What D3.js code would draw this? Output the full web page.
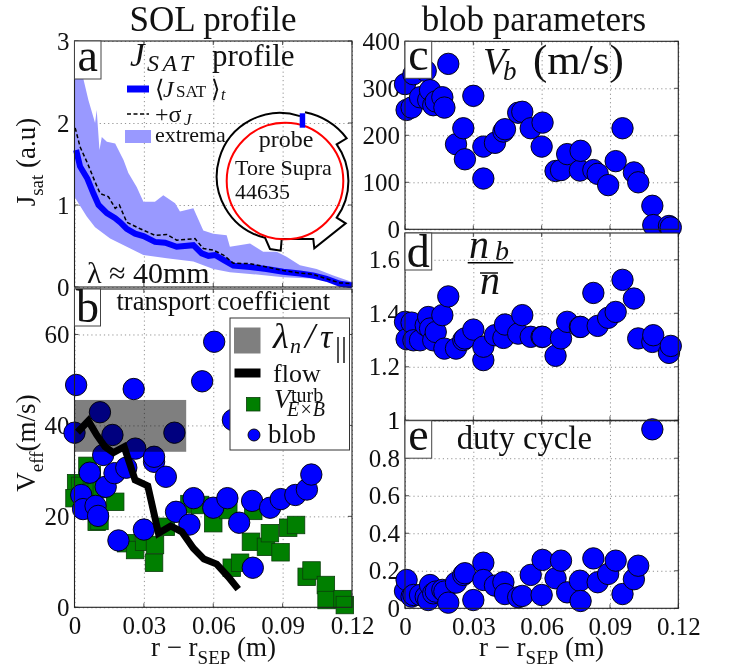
<!DOCTYPE html>
<html>
<head>
<meta charset="utf-8">
<script src="https://cdn.jsdelivr.net/npm/d3@7"></script>
<style>
html, body { margin: 0; padding: 0; background: white; }
svg { display: block; filter: blur(0.4px); }
text { font-family: "Liberation Serif", serif; fill: #111; }
</style>
</head>
<body>
<div id="chart"></div>
<script>
var WIDTH = 731;
var HEIGHT = 669;
var BLOB_R = 10.7;
var SQUARE = 17.5;

//panel a, x in mm
var meanX = [0.7, 2.4, 5.6, 8.2, 10.4, 14, 17.6, 19.7, 22.6, 26.2, 29.8, 34.8, 39.2, 44.2, 51.4, 55, 57.9, 60.8, 64.4, 68.7, 75.9, 83, 90.3, 97.5, 103.2, 109, 114.8, 120];
var meanJ = [1.67, 1.47, 1.32, 1.14, 1.00, 0.90, 0.84, 0.79, 0.71, 0.65, 0.62, 0.55, 0.54, 0.49, 0.51, 0.41, 0.38, 0.39, 0.33, 0.26, 0.245, 0.22, 0.185, 0.165, 0.14, 0.10, 0.04, 0.02];
var sigmaX = [0.3, 2.4, 5.6, 8.9, 11.1, 14.7, 17.6, 19.4, 22.6, 28.4, 34.8, 39.9, 44.2, 52.1, 55.7, 60, 64.4, 68.7, 75.9, 83, 90.3, 97.5, 103.2, 109, 114.8, 120];
var sigmaJ = [1.94, 1.71, 1.51, 1.28, 1.14, 1.10, 0.96, 1.0, 0.79, 0.71, 0.63, 0.64, 0.57, 0.59, 0.47, 0.45, 0.39, 0.29, 0.285, 0.245, 0.20, 0.17, 0.155, 0.10, 0.05, 0.04];
var upperX = [0, 3.9, 6, 8.9, 9.6, 10.8, 11.8, 14, 17.6, 21.2, 23.3, 26.9, 29.8, 34.8, 38.4, 43.5, 45.6, 51.4, 55.7, 60, 65.8, 67.2, 75.9, 81.6, 87.4, 91.7, 97.5, 104.7, 111.9, 120];
var upperJ = [2.9, 2.53, 2.28, 2.0, 2.16, 1.67, 1.83, 1.77, 1.75, 1.55, 1.39, 1.22, 1.04, 1.04, 1.12, 1.02, 0.92, 0.96, 0.69, 0.65, 0.63, 0.49, 0.53, 0.43, 0.43, 0.37, 0.265, 0.22, 0.14, 0.06];
var lowerX = [0, 1.7, 5.3, 8.9, 15.4, 22.6, 29.8, 39.9, 51.4, 60, 67.2, 75.9, 90.3, 104.7, 114.8, 120];
var lowerJ = [1.10, 1.02, 0.86, 0.73, 0.59, 0.49, 0.39, 0.35, 0.31, 0.22, 0.18, 0.16, 0.12, 0.10, 0.02, 0];

//panel b
var lambdaX = [0, 48.3];
var lambdaV = [34.2, 45.6];
var flowX = [1.3, 6, 9.6, 13.2, 16.8, 21.5, 26.2, 31.7, 36.3, 41.6, 46.4, 51.4, 56, 61.5, 66.5, 70.8];
var flowV = [38.5, 41, 37.9, 35.3, 34, 35.3, 28, 26.7, 16.3, 17.9, 16.6, 13, 10.6, 9.5, 6.7, 4];
var turbX = [0.7, 0, 2.4, 5.6, 7.5, 9.6, 11.8, 17.6, 9.6, 10.8, 22.3, 26.2, 30.1, 34.8, 34.4, 39.5, 49.7, 54.3, 60, 66.5, 68, 71.6, 76.3, 77.3, 82.8, 84.5, 89.1, 92.4, 95.8, 100.4, 102.5, 108.7, 109, 115.9, 116.9];
var turbV = [27.3, 24, 26.7, 31.1, 29.1, 26.2, 26, 23.2, 18.8, 19, 14.1, 12.6, 14.4, 13.7, 9.8, 17.7, 22.7, 22.5, 18.5, 21.4, 8.7, 9.8, 14.4, 21.2, 13.3, 16.3, 12.1, 17.5, 18.1, 6.7, 8.1, 4.9, 1.6, 1.8, 0.5];

//blob series, all share blobX (mm). null = not drawn
var blobX = [0, 0.7, 2.9, 3.7, 6.6, 9.1, 10.2, 11, 12.4, 13.5, 16.4, 17.3, 19, 22.4, 25.6, 26.3, 30, 34.4, 34.4, 39.5, 43.2, 43.9, 49.7, 51.5, 55.2, 60, 60.4, 66.1, 68.5, 71.2, 76.8, 77.1, 82.7, 84.6, 89.2, 92.5, 95.5, 100.5, 102.4, 108.6, 109, 115.9, 116.7];
var blobVeff = [38.4, 48.9, 24.7, 21.6, 29.6, 22.3, 20.1, 42.9, 33.5, 26.5, 37.9, 29.5, 14.7, 30.7, 48, 34.9, 17.1, 32, 33.1, 28.7, 38.4, 21, 18.2, 24, 49.7, 21.9, 58.4, 24, 41.2, 18.6, 23.4, 8.7, null, 21.9, 23.8, null, 24.7, 25.9, 29.2, null, null, null, null];
var blobVb = [309, 254, 259, 330, 281, 337, 275, 296, 264, 272, 281, 259, 352, 181, 215, 149, 284, 176, 108, 184, 208, 213, 248, 250, 215, 176, 227, 124, 126, 160, 125, 167, 126, 118, 94, 145, 215, 121, 100, 50, 9, 7, 4];
var blobNb = [1.368, 1.303, 1.365, 1.299, 1.299, 1.355, 1.386, 1.343, 1.299, 1.33, 1.393, 1.268, 1.463, 1.268, 1.30, 1.306, 1.339, 1.225, 1.275, 1.318, 1.308, 1.358, 1.324, 1.393, 1.312, 1.312, 1.312, 1.241, 1.306, 1.368, 1.349, 1.349, 1.476, 1.353, 1.383, 1.405, 1.525, 1.455, 1.306, 1.293, 1.318, 1.252, 1.278];
var blobDuty = [0.092, 0.151, 0.062, 0.071, 0.071, 0.062, 0.044, 0.124, 0.08, 0.089, 0.098, 0.089, 0.03, 0.137, 0.178, 0.187, 0.044, 0.243, 0.151, 0.121, 0.139, 0.076, 0.059, 0.066, 0.178, 0.071, 0.258, 0.16, 0.254, 0.085, 0.147, 0.039, 0.266, 0.139, 0.183, 0.254, 0.076, 0.155, 0.227, 0.954, null, null, null];

//ticks
var xTicks = [0, 30, 60, 90, 120];
var xTickLabels = ['0', '0.03', '0.06', '0.09', '0.12'];
var jTicks = [0, 1, 2, 3];
var veffTicks = [0, 20, 40, 60];
var vbTicks = [0, 100, 200, 300, 400];
var nbTicks = [1, 1.2, 1.4, 1.6];
var dutyTicks = [0, 0.2, 0.4, 0.6, 0.8, 1];

var svg = d3.select('#chart')
    .append('svg')
    .attr('width', WIDTH)
    .attr('height', HEIGHT);

//put text at a pixel position
function addText(parent, x, y, size, str, style, anchor) {
    return parent.append('text')
        .attr('x', x)
        .attr('y', y)
        .attr('font-size', size)
        .attr('font-style', style || 'normal')
        .attr('text-anchor', anchor || 'start')
        .text(str);
}

/**
 * Draws the white box, grid, ticks and the corner letter of one panel
 */
function makePanel(cfg) {
    var x = d3.scaleLinear().domain([0, 120]).range([cfg.left, cfg.right]);
    var y = d3.scaleLinear().domain(cfg.domain).range([cfg.bottom, cfg.top]);
    var g = svg.append('g');

    g.append('rect')
        .attr('x', cfg.left).attr('y', cfg.top)
        .attr('width', cfg.right - cfg.left)
        .attr('height', cfg.bottom - cfg.top)
        .attr('fill', 'white');

    //dotted grid
    var grid = g.append('g');
    grid.append('g')
        .attr('transform', `translate(${cfg.left},0)`)
        .call(d3.axisLeft(y).tickValues(cfg.ticks).tickSize(-(cfg.right - cfg.left)).tickFormat(''));
    grid.append('g')
        .attr('transform', `translate(0,${cfg.bottom})`)
        .call(d3.axisBottom(x).tickValues(xTicks).tickSize(-(cfg.bottom - cfg.top)).tickFormat(''));
    grid.selectAll('.domain').remove();
    grid.selectAll('line')
        .attr('stroke', '#777')
        .attr('stroke-width', 0.8)
        .attr('stroke-dasharray', '1.2 3');

    //labels and short inner ticks
    var yAxis = g.append('g')
        .attr('transform', `translate(${cfg.left},0)`)
        .call(d3.axisLeft(y).tickValues(cfg.ticks).tickSize(0).tickPadding(5).tickFormat(function(d) { return String(d); }));
    yAxis.select('.domain').remove();
    yAxis.selectAll('text').attr('font-size', 25).attr('font-family', '"Liberation Serif", serif').attr('fill', '#111');

    var inner = g.append('g').attr('stroke', '#222').attr('stroke-width', 0.8);
    cfg.ticks.forEach(function(t) {
        inner.append('line').attr('x1', cfg.left).attr('x2', cfg.left + 4).attr('y1', y(t)).attr('y2', y(t));
        inner.append('line').attr('x1', cfg.right - 4).attr('x2', cfg.right).attr('y1', y(t)).attr('y2', y(t));
    });
    xTicks.forEach(function(t) {
        inner.append('line').attr('x1', x(t)).attr('x2', x(t)).attr('y1', cfg.bottom).attr('y2', cfg.bottom - 4);
        inner.append('line').attr('x1', x(t)).attr('x2', x(t)).attr('y1', cfg.top).attr('y2', cfg.top + 4);
    });

    if (cfg.xLabels) {
        var xAxis = g.append('g')
            .attr('transform', `translate(0,${cfg.bottom})`)
            .call(d3.axisBottom(x).tickValues(xTicks).tickSize(0).tickPadding(9).tickFormat(function(d, i) { return xTickLabels[i]; }));
        xAxis.select('.domain').remove();
        xAxis.selectAll('text').attr('font-size', 25).attr('font-family', '"Liberation Serif", serif').attr('fill', '#111');
    }

    var marks = g.append('g');

    //frame and letter go on after the marks
    var top = g.append('g');
    cfg.after = function() {
        g.node().appendChild(top.node());
        top.append('rect')
            .attr('x', cfg.left).attr('y', cfg.top)
            .attr('width', cfg.right - cfg.left)
            .attr('height', cfg.bottom - cfg.top)
            .attr('fill', 'none')
            .attr('stroke', '#222')
            .attr('stroke-width', 1.1);
        top.append('rect')
            .attr('x', cfg.left).attr('y', cfg.top)
            .attr('width', cfg.boxW).attr('height', cfg.boxH)
            .attr('fill', 'white')
            .attr('stroke', '#444')
            .attr('stroke-width', 1);
        addText(top, cfg.left + cfg.boxW / 2, cfg.top + cfg.letterY, 46, cfg.letter, 'normal', 'middle');
    };
    return {x: x, y: y, g: marks, cfg: cfg};
}

function drawBlobs(panel, values) {
    var pts = blobX.map(function(d, i) { return {x: d, y: values[i]}; })
        .filter(function(d) { return d.y !== null; });
    panel.g.append('g').selectAll('circle')
        .data(pts)
        .enter()
        .append('circle')
        .attr('cx', function(d) { return panel.x(d.x); })
        .attr('cy', function(d) { return panel.y(d.y); })
        .attr('r', BLOB_R)
        .attr('fill', '#0000ff')
        .attr('stroke', '#000')
        .attr('stroke-width', 0.9);
}

//////// panel a
var a = makePanel({left: 74.5, right: 352, top: 41, bottom: 287, domain: [0, 3], ticks: jTicks, letter: 'a', boxW: 26.5, boxH: 38, letterY: 30});

var bandPts = upperX.map(function(d, i) { return [d, upperJ[i]]; })
    .concat(lowerX.map(function(d, i) { return [d, lowerJ[i]]; }).reverse());
a.g.append('path')
    .attr('d', d3.line().x(function(d) { return a.x(d[0]); }).y(function(d) { return a.y(d[1]); })(bandPts) + 'Z')
    .attr('fill', '#9999ff');

function curve(panel, xs, ys) {
    return d3.line()
        .x(function(d) { return panel.x(d); })
        .y(function(d, i) { return panel.y(ys[i]); })(xs);
}
a.g.append('path')
    .attr('d', curve(a, meanX, meanJ))
    .attr('fill', 'none').attr('stroke', '#0000ff').attr('stroke-width', 6);
a.g.append('path')
    .attr('d', curve(a, sigmaX, sigmaJ))
    .attr('fill', 'none').attr('stroke', '#000').attr('stroke-width', 1.5).attr('stroke-dasharray', '4 2.5');

//heading and legend of a
addText(a.g, 130, 66, 33, 'J', 'italic');
addText(a.g, 147, 71, 24, 'SAT', 'italic').attr('letter-spacing', 3.5);
addText(a.g, 212, 66, 31, 'profile');
a.g.append('line').attr('x1', 127).attr('x2', 149).attr('y1', 89).attr('y2', 89).attr('stroke', '#0000ff').attr('stroke-width', 7);
addText(a.g, 155, 97, 24, '⟨');
addText(a.g, 163, 97, 24, 'J', 'italic');
addText(a.g, 176, 97, 17, 'SAT');
addText(a.g, 211, 97, 24, '⟩');
addText(a.g, 221, 100, 16, 't', 'italic');
a.g.append('line').attr('x1', 127).attr('x2', 149).attr('y1', 114).attr('y2', 114).attr('stroke', '#000').attr('stroke-width', 1.5).attr('stroke-dasharray', '4 2.5');
addText(a.g, 155, 122, 24, '+σ');
addText(a.g, 184, 125, 17, 'J', 'italic');
a.g.append('rect').attr('x', 125).attr('y', 130).attr('width', 26).attr('height', 13).attr('fill', '#9999ff');
addText(a.g, 155, 142, 22, 'extrema');
addText(a.g, 87, 283, 30, 'λ ≈ 40mm');

//tokamak section sketch
a.g.append('path')
    .attr('d', 'M300,116.1 A63.3,63.3 0 1 0 265,237.66 L270,249 L280.7,250.7 L281.7,239 L313.3,239 L314.3,248.3 L345.7,223.3 L336.7,217.7 A63.3,63.3 0 0 0 336.7,144.3 L346.7,138.3 A70,70 0 0 0 305,112.3')
    .attr('fill', 'none').attr('stroke', '#000').attr('stroke-width', 2);
a.g.append('circle').attr('cx', 285).attr('cy', 181).attr('r', 58.3)
    .attr('fill', 'none').attr('stroke', '#ff0000').attr('stroke-width', 2);
a.g.append('rect').attr('x', 299.7).attr('y', 113.3).attr('width', 5.5).attr('height', 14.4).attr('fill', '#0000ff');
addText(a.g, 286, 147, 24, 'probe', 'normal', 'middle');
addText(a.g, 235, 175, 22, 'Tore Supra');
addText(a.g, 235, 199, 22, '44635');
a.cfg.after();

//////// panel b
var b = makePanel({left: 74.5, right: 352, top: 289, bottom: 607.3, domain: [0, 70], ticks: veffTicks, letter: 'b', boxW: 26, boxH: 37, letterY: 33, xLabels: true});

b.g.append('g').selectAll('rect')
    .data(turbX)
    .enter()
    .append('rect')
    .attr('x', function(d) { return b.x(d) - SQUARE / 2; })
    .attr('y', function(d, i) { return b.y(turbV[i]) - SQUARE / 2; })
    .attr('width', SQUARE)
    .attr('height', SQUARE)
    .attr('fill', '#007f00')
    .attr('stroke', '#0b3d0b')
    .attr('stroke-width', 0.8);
drawBlobs(b, blobVeff);

b.g.append('rect')
    .attr('x', b.x(lambdaX[0]))
    .attr('y', b.y(lambdaV[1]))
    .attr('width', b.x(lambdaX[1]) - b.x(lambdaX[0]))
    .attr('height', b.y(lambdaV[0]) - b.y(lambdaV[1]))
    .attr('fill', '#000')
    .attr('fill-opacity', 0.5);
b.g.append('path')
    .attr('d', curve(b, flowX, flowV))
    .attr('fill', 'none').attr('stroke', '#000').attr('stroke-width', 7);

addText(b.g, 116.5, 310, 26.5, 'transport coefficient');

//legend of b
var legend = b.g.append('g');
legend.append('rect').attr('x', 230).attr('y', 318).attr('width', 119.5).attr('height', 132)
    .attr('fill', 'white').attr('stroke', '#333').attr('stroke-width', 1);
legend.append('rect').attr('x', 234).attr('y', 327.5).attr('width', 26.5).attr('height', 26).attr('fill', '#000').attr('fill-opacity', 0.5);
addText(legend, 273, 348, 36, 'λ', 'italic');
addText(legend, 290, 353, 22, 'n', 'italic');
addText(legend, 305, 348, 36, '/', 'italic');
addText(legend, 320, 348, 34, 'τ', 'italic');
addText(legend, 335, 357, 30, '||');
legend.append('rect').attr('x', 234.5).attr('y', 368.5).attr('width', 26).attr('height', 9).attr('fill', '#000');
addText(legend, 273, 382, 26, 'flow');
legend.append('rect').attr('x', 246.5).attr('y', 397.5).attr('width', 13.5).attr('height', 13.5)
    .attr('fill', '#007f00').attr('stroke', '#0b3d0b').attr('stroke-width', 0.8);
addText(legend, 274, 408, 27, 'V', 'italic');
addText(legend, 291, 402, 20, 'turb');
addText(legend, 287, 416, 20, 'E×B', 'italic');
legend.append('circle').attr('cx', 254).attr('cy', 435).attr('r', 6).attr('fill', '#0000ff').attr('stroke', '#000').attr('stroke-width', 0.9);
addText(legend, 268, 443, 27, 'blob');
b.cfg.after();

//////// panel c
var c = makePanel({left: 405, right: 678.3, top: 41.3, bottom: 229.3, domain: [0, 400], ticks: vbTicks, letter: 'c', boxW: 26.7, boxH: 37, letterY: 29});
drawBlobs(c, blobVb);
addText(c.g, 483, 74, 38, 'V', 'italic');
addText(c.g, 503, 80, 27, 'b', 'italic');
addText(c.g, 533, 74, 43, '(m/s)');
c.cfg.after();

//////// panel d
var dPanel = makePanel({left: 405, right: 678.3, top: 233, bottom: 420.3, domain: [1, 1.7], ticks: nbTicks, letter: 'd', boxW: 26.7, boxH: 37, letterY: 34});
drawBlobs(dPanel, blobNb);
addText(dPanel.g, 469, 258, 40, 'n', 'italic');
addText(dPanel.g, 495, 260, 28, 'b', 'italic');
dPanel.g.append('line').attr('x1', 467.7).attr('x2', 513.3).attr('y1', 262.7).attr('y2', 262.7).attr('stroke', '#000').attr('stroke-width', 1.4);
addText(dPanel.g, 490, 294, 40, 'n', 'italic', 'middle');
dPanel.g.append('line').attr('x1', 480).attr('x2', 498).attr('y1', 273).attr('y2', 273).attr('stroke', '#000').attr('stroke-width', 1.4);
dPanel.cfg.after();

//////// panel e
var e = makePanel({left: 405, right: 678.3, top: 420.7, bottom: 608.3, domain: [0, 1], ticks: dutyTicks, letter: 'e', boxW: 26.7, boxH: 37.5, letterY: 29, xLabels: true});
drawBlobs(e, blobDuty);
addText(e.g, 456.7, 449, 32.7, 'duty cycle');
e.cfg.after();

//column titles and axis names
addText(svg, 213, 31, 35, 'SOL profile', 'normal', 'middle');
addText(svg, 534, 31, 35, 'blob parameters', 'normal', 'middle');

function xName(cx) {
    var t = svg.append('text').attr('x', cx).attr('y', 656).attr('font-size', 27).attr('text-anchor', 'middle');
    t.append('tspan').text('r − r');
    t.append('tspan').attr('font-size', 19).attr('dy', 8).text('SEP');
    t.append('tspan').attr('dy', -8).text(' (m)');
}
xName(213.5);
xName(541.5);

function yName(cy, main, sub, rest) {
    var t = svg.append('text')
        .attr('transform', `translate(35,${cy}) rotate(-90)`)
        .attr('font-size', 27)
        .attr('text-anchor', 'middle');
    t.append('tspan').text(main);
    t.append('tspan').attr('font-size', 19).attr('dy', 8).text(sub);
    t.append('tspan').attr('dy', -8).text(rest);
}
yName(162, 'J', 'sat', ' (a.u)');
yName(443, 'V', 'eff', '(m/s)');
</script>
</body>
</html>
